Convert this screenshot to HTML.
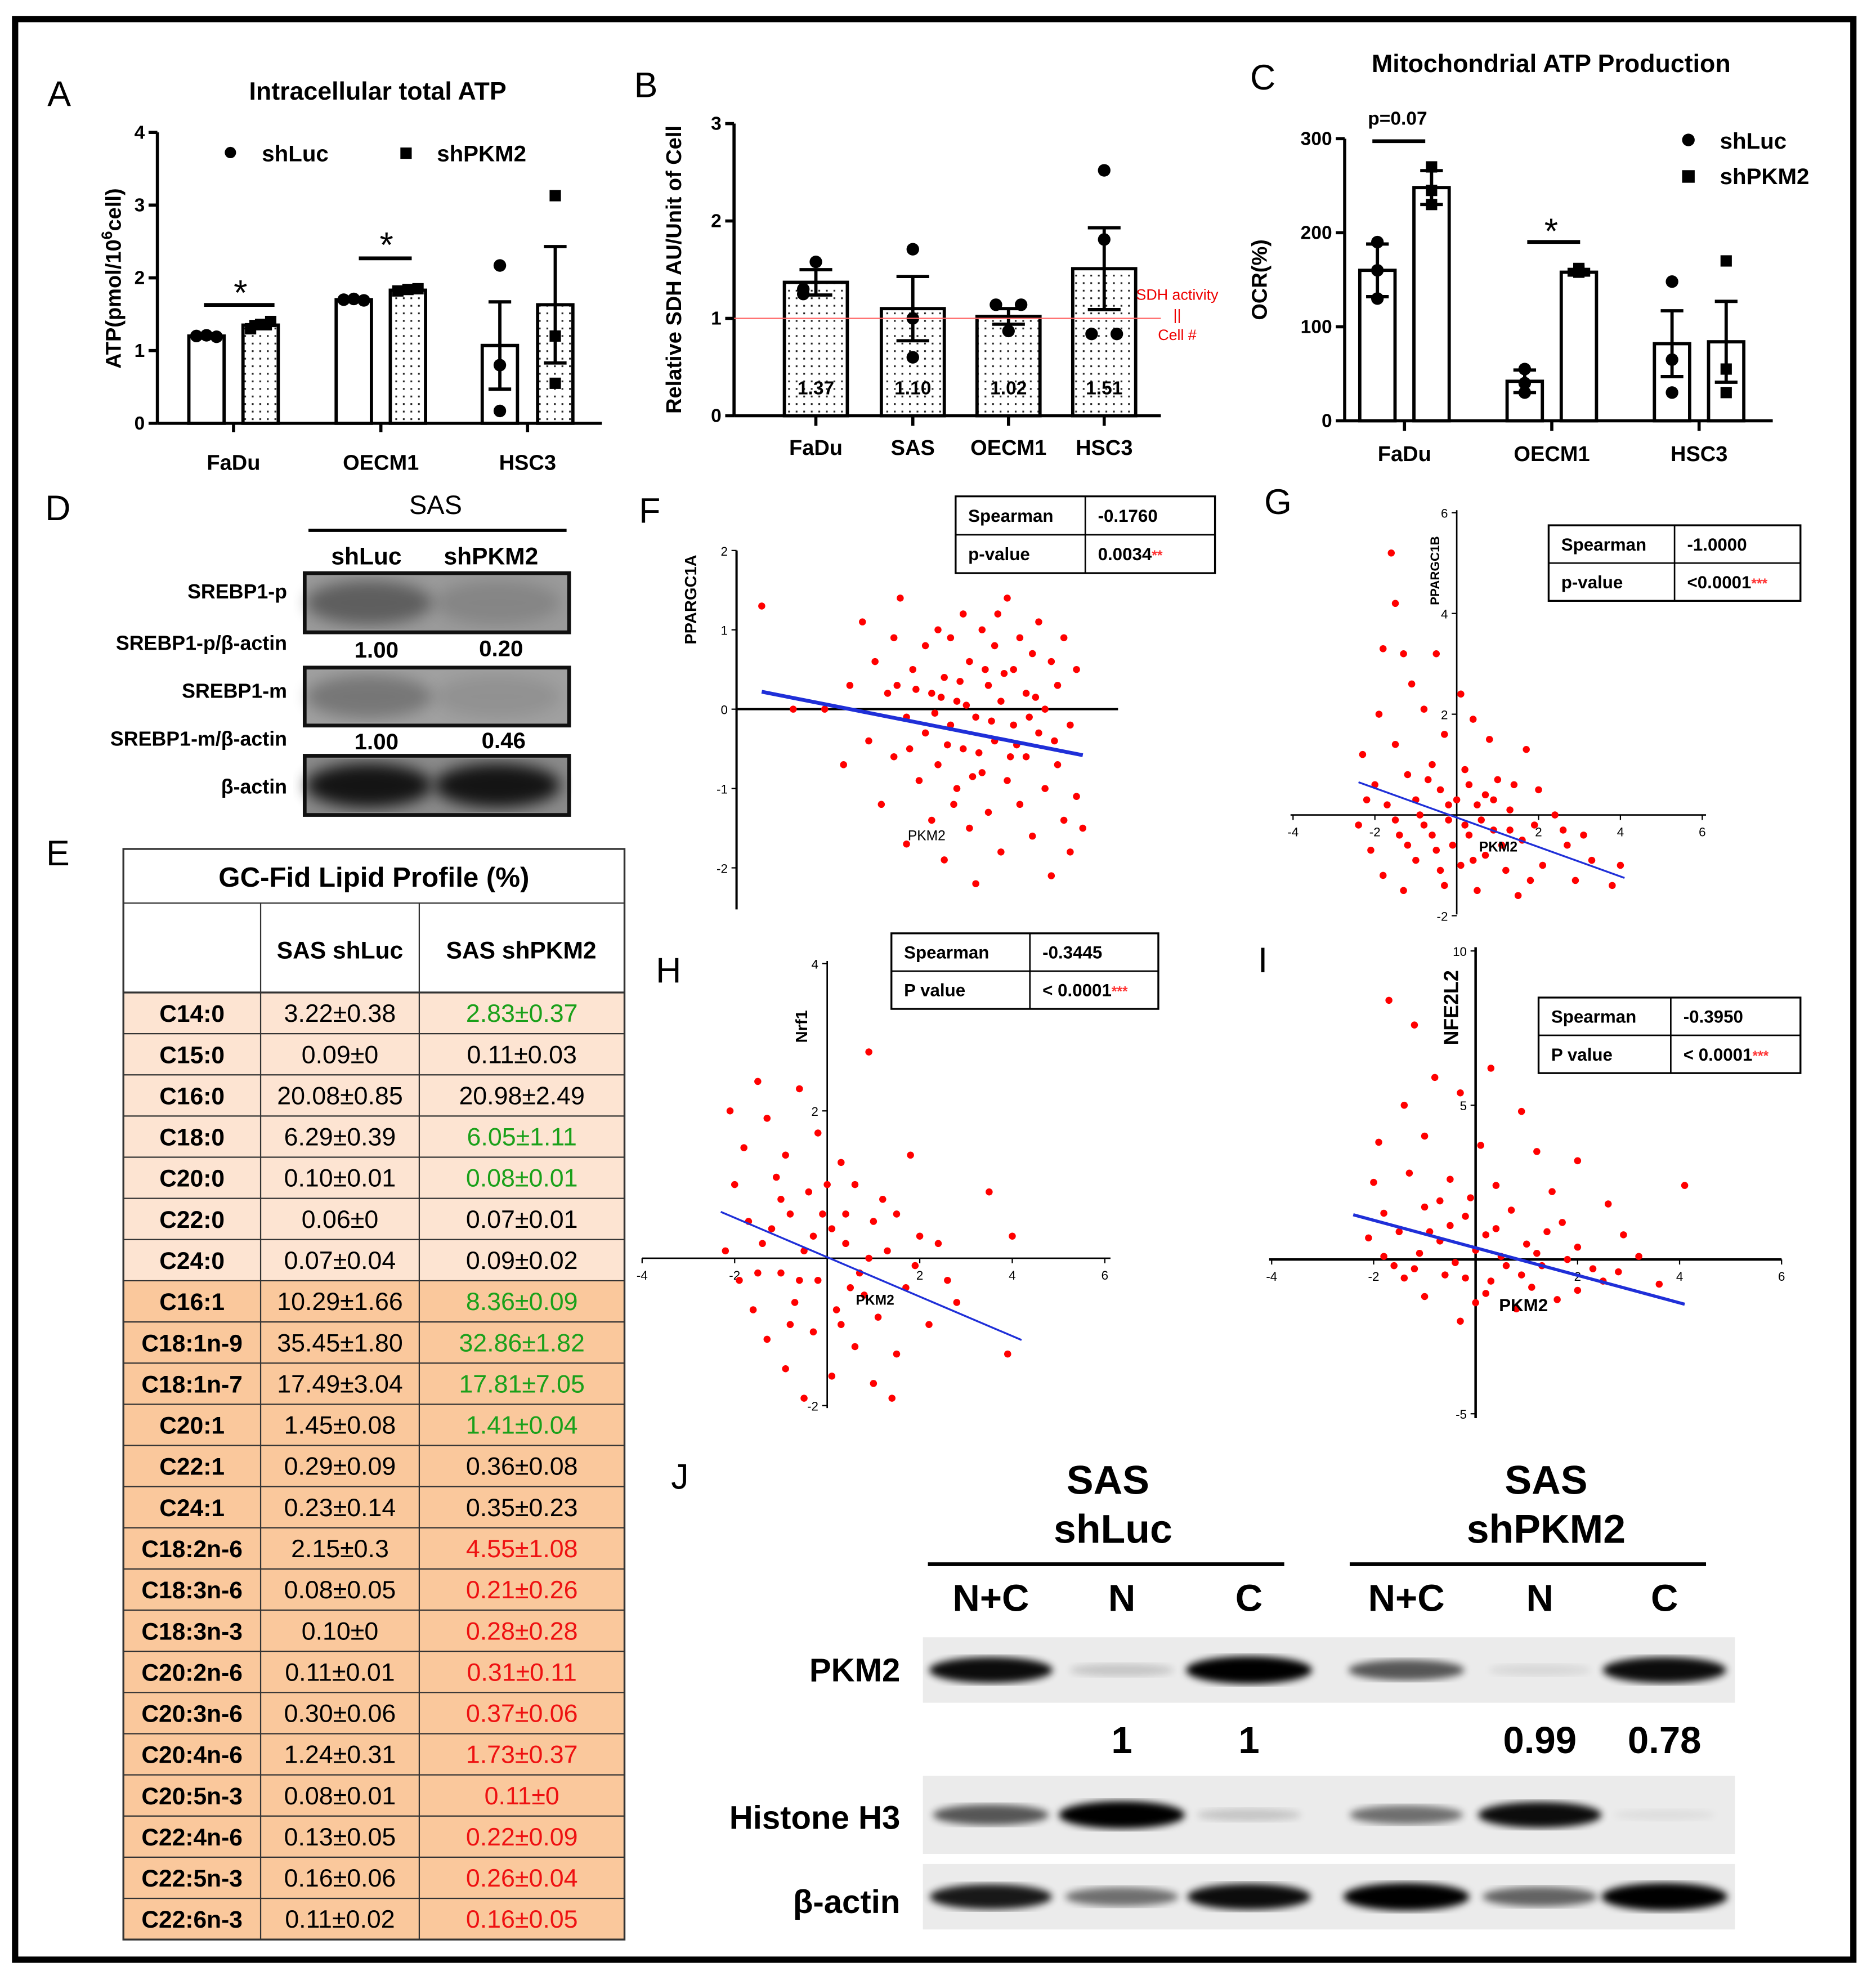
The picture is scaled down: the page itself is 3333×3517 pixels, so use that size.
<!DOCTYPE html>
<html><head><meta charset="utf-8"><style>
html,body{margin:0;padding:0;background:#fff}
svg{display:block}
text{font-family:"Liberation Sans",Arial,sans-serif}
</style></head><body>
<svg id="fig" width="3333" height="3517" viewBox="0 0 1490 1572" xmlns="http://www.w3.org/2000/svg">
<defs>
<pattern id="dots" width="6" height="6" patternUnits="userSpaceOnUse"><rect width="6" height="6" fill="#fff"/><rect x="2" y="2" width="1.4" height="1.4" fill="#222"/></pattern>
<filter id="blur2"><feGaussianBlur stdDeviation="3"/></filter>
<filter id="blur5"><feGaussianBlur stdDeviation="6"/></filter>
</defs>
<rect x="12" y="15" width="1460" height="1541" fill="none" stroke="#000" stroke-width="5"/>
</svg>
<script>
// ---------- DATA ----------
const catsA = ["FaDu","OECM1","HSC3"];
const meanA_luc = [1.2,1.7,1.07];
const meanA_pkm = [1.35,1.83,1.63];
const semA_luc = [0.03,0.03,0.6];
const semA_pkm = [0.05,0.03,0.8];
const ptsA_luc = [[1.2,1.21,1.19],[1.7,1.71,1.69],[0.17,0.8,2.17]];
const ptsA_pkm = [[1.3,1.36,1.4],[1.82,1.84,1.85],[3.13,1.2,0.55]];
const ticksA = [0,1,2,3,4];

const catsB = ["FaDu","SAS","OECM1","HSC3"];
const meanB = [1.37,1.10,1.02,1.51];
const semB = [0.13,0.33,0.08,0.42];
const ptsB = [[1.58,1.25,1.3],[1.71,1.0,0.6],[1.14,1.14,0.87],[2.52,1.81,0.84,0.84]];
const labelsB = ["1.37","1.10","1.02","1.51"];
const ticksB = [0,1,2,3];

const catsC = ["FaDu","OECM1","HSC3"];
const meanC_luc = [160,42,82];
const meanC_pkm = [248,158,84];
const semC_luc = [28,12,35];
const semC_pkm = [18,3,43];
const ptsC_luc = [[190,130,160],[55,30,40],[148,30,65]];
const ptsC_pkm = [[270,230,245],[158,160,162],[170,30,55]];
const ticksC = [0,100,200,300];

const lipidNames = ["C14:0","C15:0","C16:0","C18:0","C20:0","C22:0","C24:0","C16:1","C18:1n-9","C18:1n-7","C20:1","C22:1","C24:1","C18:2n-6","C18:3n-6","C18:3n-3","C20:2n-6","C20:3n-6","C20:4n-6","C20:5n-3","C22:4n-6","C22:5n-3","C22:6n-3"];
const lipidLuc = ["3.22±0.38","0.09±0","20.08±0.85","6.29±0.39","0.10±0.01","0.06±0","0.07±0.04","10.29±1.66","35.45±1.80","17.49±3.04","1.45±0.08","0.29±0.09","0.23±0.14","2.15±0.3","0.08±0.05","0.10±0","0.11±0.01","0.30±0.06","1.24±0.31","0.08±0.01","0.13±0.05","0.16±0.06","0.11±0.02"];
const lipidPkm = ["2.83±0.37","0.11±0.03","20.98±2.49","6.05±1.11","0.08±0.01","0.07±0.01","0.09±0.02","8.36±0.09","32.86±1.82","17.81±7.05","1.41±0.04","0.36±0.08","0.35±0.23","4.55±1.08","0.21±0.26","0.28±0.28","0.31±0.11","0.37±0.06","1.73±0.37","0.11±0","0.22±0.09","0.26±0.04","0.16±0.05"];
const lipidTrend = ["g","k","k","g","g","k","k","g","g","g","g","k","k","r","r","r","r","r","r","r","r","r","r"];

const ptsF = [[-2.6,1.3],[-2.1,0.0],[-1.6,0.0],[-1.3,-0.7],[-1.2,0.3],[-1.0,1.1],[-0.9,-0.4],[-0.8,0.6],[-0.7,-1.2],[-0.6,0.2],[-0.5,0.9],[-0.5,-0.6],[-0.4,1.4],[-0.3,-0.1],[-0.3,-1.7],[-0.2,0.5],[-0.1,-0.9],[0.0,0.8],[0.0,-0.3],[0.1,-1.4],[0.1,0.2],[0.2,1.0],[0.2,-0.7],[0.3,0.4],[0.3,-1.9],[0.4,-0.2],[0.4,0.9],[0.5,-1.0],[0.5,0.1],[0.6,1.2],[0.6,-0.5],[0.7,-1.5],[0.7,0.6],[0.8,-0.1],[0.8,-2.2],[0.9,1.0],[0.9,-0.8],[1.0,0.3],[1.0,-1.3],[1.1,0.8],[1.1,-0.4],[1.2,-1.8],[1.2,0.1],[1.3,1.4],[1.3,-0.9],[1.4,0.5],[1.4,-0.2],[1.5,-1.2],[1.5,0.9],[1.6,-0.6],[1.6,0.2],[1.7,-1.6],[1.7,0.7],[1.8,-0.3],[1.8,1.1],[1.9,-1.0],[1.9,0.0],[2.0,0.6],[2.0,-2.1],[2.1,-0.7],[2.1,0.3],[2.2,-1.4],[2.2,0.9],[2.3,-0.2],[2.3,-1.8],[2.4,0.5],[2.4,-1.1],[2.5,-1.5],[0.15,-0.05],[0.55,0.35],[0.85,-0.55],[1.25,0.45],[0.35,-0.45],[1.05,-0.15],[0.65,0.05],[1.45,-0.45],[-0.15,0.25],[1.75,0.15],[0.45,-1.2],[1.15,1.2],[-0.25,-0.5],[0.25,0.15],[0.95,0.5],[1.35,-0.6],[1.65,-0.1],[0.75,-0.85],[-0.45,0.3],[2.05,-0.4]];
const lineFx = [-2.6,2.5], lineFy = [0.22,-0.58];
const ptsG = [[-1.6,5.2],[-1.5,4.2],[-1.8,3.3],[-1.3,3.2],[-0.5,3.2],[-1.1,2.6],[0.1,2.4],[-1.9,2.0],[-0.8,2.1],[0.4,1.9],[-2.3,1.2],[-1.5,1.4],[-0.3,1.6],[0.8,1.5],[1.7,1.3],[-2.0,0.6],[-1.2,0.8],[-0.6,1.0],[0.2,0.9],[1.0,0.7],[2.0,0.5],[-2.4,-0.2],[-1.7,0.2],[-1.0,0.3],[-0.4,0.5],[0.5,0.2],[1.3,0.1],[2.4,0.0],[-2.1,-0.7],[-1.4,-0.4],[-0.8,-0.2],[-0.2,-0.1],[0.3,-0.4],[0.9,-0.3],[1.6,-0.5],[2.7,-0.6],[3.3,-0.9],[-1.8,-1.2],[-1.0,-0.9],[-0.5,-0.7],[0.1,-1.0],[0.7,-0.8],[1.2,-1.1],[2.1,-1.0],[2.9,-1.3],[3.8,-1.4],[-1.3,-1.5],[-0.3,-1.4],[0.5,-1.5],[1.5,-1.6],[-0.9,0.0],[0.0,0.3],[0.6,-0.1],[-0.6,-0.4],[1.1,-0.6],[-1.5,-0.1],[0.3,0.6],[1.9,-0.2],[-0.1,-0.6],[0.9,0.3],[2.6,-0.3],[-2.2,0.3],[3.1,-0.4],[4.0,-1.0],[1.4,0.6],[-0.7,0.7],[0.4,-0.9],[1.8,-1.3],[-0.2,0.2],[0.2,-0.2],[-1.2,-0.6],[0.7,0.4],[-0.4,-1.1],[1.3,-0.3]];
const lineGx = [-2.4,4.1], lineGy = [0.65,-1.25];
const ptsH = [[-1.5,2.4],[-0.6,2.3],[-2.1,2.0],[-1.3,1.9],[-0.2,1.7],[0.9,2.8],[-1.8,1.5],[-0.9,1.4],[0.3,1.3],[1.8,1.4],[-2.0,1.0],[-1.1,1.1],[-0.4,0.9],[0.6,1.0],[1.5,0.6],[3.5,0.9],[-1.7,0.5],[-0.8,0.6],[0.1,0.4],[1.0,0.5],[2.0,0.3],[4.0,0.3],[-2.2,0.1],[-1.4,0.2],[-0.5,0.1],[0.4,0.2],[1.3,0.1],[2.4,0.2],[-1.9,-0.3],[-1.0,-0.2],[-0.2,-0.3],[0.7,-0.2],[1.7,-0.4],[2.8,-0.6],[-1.6,-0.7],[-0.7,-0.6],[0.2,-0.7],[1.1,-0.8],[2.2,-0.9],[3.9,-1.3],[-1.3,-1.1],[-0.3,-1.0],[0.6,-1.2],[1.5,-1.3],[-0.9,-1.5],[0.1,-1.6],[1.0,-1.7],[1.4,-1.9],[-0.5,-1.9],[0.5,-0.4],[-1.2,0.4],[0.9,0.0],[-0.1,0.6],[1.9,-0.1],[-0.6,-0.3],[0.3,-0.9],[-1.5,-0.2],[2.6,-0.3],[0.0,1.0],[1.2,0.8],[-0.3,0.3],[-1.0,0.8],[0.8,-0.5],[-0.8,-0.9],[0.4,0.6]];
const lineHx = [-2.3,4.2], lineHy = [0.63,-1.11];
const ptsI = [[-1.7,8.4],[-1.2,7.6],[0.3,6.2],[-0.8,5.9],[-1.4,5.0],[-0.3,5.4],[0.9,4.8],[-1.9,3.8],[-1.0,4.0],[0.1,3.7],[1.2,3.5],[2.0,3.2],[-2.0,2.5],[-1.3,2.8],[-0.5,2.6],[0.4,2.4],[1.5,2.2],[2.6,1.8],[4.1,2.4],[-1.8,1.5],[-1.0,1.7],[-0.2,1.4],[0.7,1.6],[1.7,1.2],[2.9,0.8],[-2.1,0.7],[-1.5,0.9],[-0.7,0.6],[0.2,0.8],[1.0,0.5],[2.0,0.4],[3.2,0.1],[-1.8,0.1],[-1.1,0.2],[-0.4,-0.1],[0.5,0.1],[1.3,-0.2],[2.3,-0.3],[3.6,-0.8],[-1.4,-0.6],[-0.6,-0.5],[0.3,-0.7],[1.1,-0.9],[2.0,-1.0],[-1.0,-1.2],[0.0,-1.4],[0.8,-1.6],[1.6,-1.3],[-0.3,-2.0],[0.6,-0.2],[-0.9,0.9],[1.8,0.0],[0.0,0.3],[-1.6,-0.2],[2.5,-0.7],[1.4,0.9],[-0.1,2.0],[0.9,-0.5],[-0.5,1.1],[2.8,-0.4],[-0.2,-0.6],[0.4,1.0],[1.2,0.2],[-1.2,-0.3],[0.2,-1.1],[-0.7,1.9]];
const lineIx = [-2.4,4.1], lineIy = [1.45,-1.45];

const pkm2Band = [0.9,0.15,1.0,0.6,0.08,0.9];
const histBand = [0.6,1.0,0.15,0.5,0.9,0.05];
const actinBand = [0.85,0.5,0.9,1.0,0.55,1.0];
const pkm2Vals = ["","1","1","","0.99","0.78"];

// ---------- HELPERS ----------
const NS = "http://www.w3.org/2000/svg";
const svg = document.getElementById('fig');
function mk(tag, attrs, parent){ const e=document.createElementNS(NS,tag); for(const k in attrs) e.setAttribute(k,attrs[k]); (parent||svg).appendChild(e); return e; }
function tx(str, attrs, parent){ const e=mk('text',attrs,parent); e.textContent=str; return e; }
function grp(name){ const g=mk('g',{});   return g; }
function nm(e,name){   return e; }

const letters=[["A",47,84],["B",513,77],["C",1003,71],["D",46,413],["E",46,687],["F",516,415],["G",1015,408],["H",531,780],["I",1003,772],["J",540,1182]];
letters.forEach(l=>{ const t=tx(l[0],{x:l[1],y:l[2],'font-size':28,'text-anchor':'middle'});
 
  });

function yAxis(g, x, yfn, ticks, fmt, name){
  const top=yfn(ticks[ticks.length-1]), bot=yfn(ticks[0]);
  const ax=mk('line',{x1:x,y1:top,x2:x,y2:bot,stroke:'#000','stroke-width':2.5},g);
   
  ticks.forEach(t=>{ const y=yfn(t);
    mk('line',{x1:x-7,y1:y,x2:x,y2:y,stroke:'#000','stroke-width':2.5},g);
    const lb=tx(fmt(t),{x:x-10,y:y+5,'font-size':15,'font-weight':'bold','text-anchor':'end'},g);
     
  });
}
function bar(g,cx,w,v,yfn,fill,name){
  const r=mk('rect',{x:cx-w/2,y:yfn(v),width:w,height:yfn(0)-yfn(v),fill:fill,stroke:'#000','stroke-width':2.6},g);
    return r;
}
function err(g,cx,v,s,yfn,cap){
  const e=mk('path',{d:`M${cx},${yfn(v-s)}V${yfn(v+s)}M${cx-cap},${yfn(v+s)}h${2*cap}M${cx-cap},${yfn(v-s)}h${2*cap}`,stroke:'#000','stroke-width':2.6,fill:'none'},g);
   
}
function dot(g,cx,y,sq){
  let e; if(sq) e=mk('rect',{x:cx-4.5,y:y-4.5,width:9,height:9,fill:'#000'},g); else e=mk('circle',{cx:cx,cy:y,r:5,fill:'#000'},g);
   
}
function spread(i,n){ return n<=1?0:(i-(n-1)/2)*(n>3?14:8); }

// ---------- PANEL A ----------
(function(){
 const g=grp('panel-a-atp-chart');
 const yA=v=>336-v*(231/4);
 yAxis(g,125,yA,ticksA,t=>String(t),'panel-a');
 mk('line',{x1:125,y1:336,x2:478,y2:336,stroke:'#000','stroke-width':2.5},g);
 const cL=[164,281,397], cP=[207,324,441];
 catsA.forEach((c,i)=>{
  bar(g,cL[i],28,meanA_luc[i],yA,'#fff','bar-shluc-'+c.toLowerCase());
  bar(g,cP[i],28,meanA_pkm[i],yA,'url(#dots)','bar-shpkm2-'+c.toLowerCase());
  err(g,cL[i],meanA_luc[i],semA_luc[i],yA,9); err(g,cP[i],meanA_pkm[i],semA_pkm[i],yA,9);
  ptsA_luc[i].forEach((p,j)=>dot(g,cL[i]+(i<2?spread(j,3):0),yA(p),false));
  ptsA_pkm[i].forEach((p,j)=>dot(g,cP[i]+(i<2?spread(j,3):0),yA(p),true));
  mk('line',{x1:(cL[i]+cP[i])/2,y1:336,x2:(cL[i]+cP[i])/2,y2:343,stroke:'#000','stroke-width':2.5},g);
  const t=tx(c,{x:(cL[i]+cP[i])/2,y:373,'font-size':17,'font-weight':'bold','text-anchor':'middle'},g);
   
 });
 nm(tx('Intracellular total ATP',{x:300,y:79,'font-size':20,'font-weight':'bold','text-anchor':'middle'},g),'panel-a-title');
 mk('circle',{cx:183,cy:121,r:4.5},g); nm(tx('shLuc',{x:208,y:128,'font-size':18,'font-weight':'bold'},g),'legend-shluc');
 mk('rect',{x:318,y:117,width:9,height:9},g); nm(tx('shPKM2',{x:347,y:128,'font-size':18,'font-weight':'bold'},g),'legend-shpkm2');
 mk('line',{x1:162,y1:242,x2:218,y2:242,stroke:'#000','stroke-width':3},g);
 nm(tx('*',{x:191,y:242,'font-size':28,'text-anchor':'middle'},g),'significance-star');
 mk('line',{x1:285,y1:205,x2:327,y2:205,stroke:'#000','stroke-width':3},g);
 nm(tx('*',{x:307,y:204,'font-size':28,'text-anchor':'middle'},g),'significance-star');
 const yl=tx('',{x:0,y:0,'font-size':17,'font-weight':'bold','text-anchor':'middle',transform:'translate(96,221) rotate(-90)'},g);
 yl.innerHTML='ATP(pmol/10<tspan dy="-7" font-size="12">6</tspan><tspan dy="7">cell)</tspan>';
 nm(yl,'panel-a-y-axis-title');
})();

// ---------- PANEL B ----------
(function(){
 const g=grp('panel-b-sdh-chart');
 const yB=v=>330-v*77.33;
 yAxis(g,583,yB,ticksB,t=>String(t),'panel-b');
 mk('line',{x1:583,y1:330,x2:922,y2:330,stroke:'#000','stroke-width':2.5},g);
 const cx=[648,725,801,877];
 catsB.forEach((c,i)=>{
  bar(g,cx[i],50,meanB[i],yB,'url(#dots)','bar-'+c.toLowerCase());
  err(g,cx[i],meanB[i],semB[i],yB,13);
  ptsB[i].forEach((p,j)=>{ const dup=ptsB[i].filter(q=>Math.abs(q-p)<0.08).length>1; dot(g,cx[i]+(dup?(ptsB[i].indexOf(p)===j?-10:10):0),yB(p),false); });
  nm(tx(labelsB[i],{x:cx[i],y:313,'font-size':15,'font-weight':'bold','text-anchor':'middle'},g),'bar-value-label');
  mk('line',{x1:cx[i],y1:330,x2:cx[i],y2:338,stroke:'#000','stroke-width':2.5},g);
  nm(tx(c,{x:cx[i],y:361,'font-size':17,'font-weight':'bold','text-anchor':'middle'},g),'x-category-label');
 });
 nm(mk('line',{x1:583,y1:yB(1),x2:922,y2:yB(1),stroke:'#f66','stroke-width':1},g),'reference-line');
 nm(tx('SDH activity',{x:935,y:238,'font-size':12,fill:'#e00','text-anchor':'middle'},g),'reference-note');
 nm(tx('||',{x:935,y:254,'font-size':12,fill:'#e00','text-anchor':'middle'},g),'reference-note');
 nm(tx('Cell #',{x:935,y:270,'font-size':12,fill:'#e00','text-anchor':'middle'},g),'reference-note');
 nm(tx('Relative SDH AU/Unit of Cell',{x:0,y:0,'font-size':17,'font-weight':'bold','text-anchor':'middle',transform:'translate(541,214) rotate(-90)'},g),'panel-b-y-axis-title');
})();

// ---------- PANEL C ----------
(function(){
 const g=grp('panel-c-ocr-chart');
 const yC=v=>334-v*(224/300);
 yAxis(g,1068,yC,ticksC,t=>String(t),'panel-c');
 mk('line',{x1:1068,y1:334,x2:1408,y2:334,stroke:'#000','stroke-width':2.5},g);
 const cL=[1094,1211,1328], cP=[1137,1254,1371];
 catsC.forEach((c,i)=>{
  bar(g,cL[i],28,meanC_luc[i],yC,'#fff','bar-shluc-'+c.toLowerCase());
  bar(g,cP[i],28,meanC_pkm[i],yC,'#fff','bar-shpkm2-'+c.toLowerCase());
  err(g,cL[i],meanC_luc[i],semC_luc[i],yC,9); err(g,cP[i],meanC_pkm[i],semC_pkm[i],yC,9);
  ptsC_luc[i].forEach(p=>dot(g,cL[i],yC(p),false));
  ptsC_pkm[i].forEach(p=>dot(g,cP[i],yC(p),true));
  mk('line',{x1:(cL[i]+cP[i])/2,y1:334,x2:(cL[i]+cP[i])/2,y2:342,stroke:'#000','stroke-width':2.5},g);
  nm(tx(c,{x:(cL[i]+cP[i])/2,y:366,'font-size':17,'font-weight':'bold','text-anchor':'middle'},g),'x-category-label');
 });
 nm(tx('Mitochondrial ATP Production',{x:1232,y:57,'font-size':20,'font-weight':'bold','text-anchor':'middle'},g),'panel-c-title');
 mk('circle',{cx:1341,cy:111,r:5},g); nm(tx('shLuc',{x:1366,y:118,'font-size':18,'font-weight':'bold'},g),'legend-shluc');
 mk('rect',{x:1336,y:135,width:10,height:10},g); nm(tx('shPKM2',{x:1366,y:146,'font-size':18,'font-weight':'bold'},g),'legend-shpkm2');
 mk('line',{x1:1090,y1:112,x2:1132,y2:112,stroke:'#000','stroke-width':3},g);
 nm(tx('p=0.07',{x:1110,y:99,'font-size':15,'font-weight':'bold','text-anchor':'middle'},g),'p-value-annotation');
 mk('line',{x1:1213,y1:192,x2:1255,y2:192,stroke:'#000','stroke-width':3},g);
 nm(tx('*',{x:1232,y:193,'font-size':28,'text-anchor':'middle'},g),'significance-star');
 nm(tx('OCR(%)',{x:0,y:0,'font-size':17,'font-weight':'bold','text-anchor':'middle',transform:'translate(1006,222) rotate(-90)'},g),'panel-c-y-axis-title');
})();

// ---------- PANEL D ----------
(function(){
 const g=grp('panel-d-western-blot');
 nm(tx('SAS',{x:346,y:408,'font-size':21,'text-anchor':'middle'},g),'group-label');
 mk('line',{x1:245,y1:421,x2:450,y2:421,stroke:'#000','stroke-width':2.5},g);
 nm(tx('shLuc',{x:291,y:448,'font-size':19,'font-weight':'bold','text-anchor':'middle'},g),'lane-label');
 nm(tx('shPKM2',{x:390,y:448,'font-size':19,'font-weight':'bold','text-anchor':'middle'},g),'lane-label');
 const rows=[[455,47,'#9a9a9a',[0.45,0.15]],[530,46,'#a0a0a0',[0.3,0.1]],[600,47,'#8a8a8a',[1,1]]];
 rows.forEach(r=>{
  nm(mk('rect',{x:242,y:r[0],width:210,height:r[1],fill:r[2],stroke:'#111','stroke-width':3},g),'blot-strip');
  [293,395].forEach((cx,j)=>{ const a=r[3][j];
   mk('ellipse',{cx:cx,cy:r[0]+r[1]/2,rx:50,ry:r[1]/2-6,fill:'#000',opacity:a*0.85,filter:'url(#blur5)'},g); });
 });
 const lbl=[['SREBP1-p',475],['SREBP1-p/β-actin',516],['SREBP1-m',554],['SREBP1-m/β-actin',592],['β-actin',630]];
 lbl.forEach(l=>nm(tx(l[0],{x:228,y:l[1],'font-size':16,'font-weight':'bold','text-anchor':'end'},g),'blot-row-label'));
 [['1.00',299,522],['0.20',398,521],['1.00',299,595],['0.46',400,594]].forEach(v=>nm(tx(v[0],{x:v[1],y:v[2],'font-size':18,'font-weight':'bold','text-anchor':'middle'},g),'quantification-value'));
})();

// ---------- PANEL E ----------
(function(){
 const g=grp('panel-e-lipid-table');
 const x0=98,x1=207,x2=333,x3=496, top=674, hTop=717, dTop=788, rh=(1540-788)/lipidNames.length;
 mk('rect',{x:x0,y:top,width:x3-x0,height:dTop-top,fill:'#fff'},g);
 lipidNames.forEach((n,i)=>{
  const y=dTop+i*rh;
  nm(mk('rect',{x:x0,y:y,width:x3-x0,height:rh,fill:i<7?'#fde4d2':'#fac89c'},g),'table-row-bg');
  nm(tx(n,{x:(x0+x1)/2,y:y+rh/2+7,'font-size':19,'font-weight':'bold','text-anchor':'middle'},g),'lipid-name');
  nm(tx(lipidLuc[i],{x:(x1+x2)/2,y:y+rh/2+7,'font-size':20,'text-anchor':'middle','font-family':'Liberation Serif, serif'},g),'shluc-value');
  const col=lipidTrend[i]==='g'?'#1aa01a':lipidTrend[i]==='r'?'#ee1111':'#000';
  nm(tx(lipidPkm[i],{x:(x2+x3)/2,y:y+rh/2+7,'font-size':20,'text-anchor':'middle',fill:col,'font-family':'Liberation Serif, serif'},g),'shpkm2-value');
  mk('line',{x1:x0,y1:y,x2:x3,y2:y,stroke:'#333','stroke-width':1},g);
 });
 mk('rect',{x:x0,y:top,width:x3-x0,height:1540-top,fill:'none',stroke:'#333','stroke-width':1.5},g);
 mk('line',{x1:x0,y1:hTop,x2:x3,y2:hTop,stroke:'#333','stroke-width':1},g);
 mk('line',{x1:x0,y1:dTop,x2:x3,y2:dTop,stroke:'#333','stroke-width':1.5},g);
 [x1,x2].forEach(x=>mk('line',{x1:x,y1:hTop,x2:x,y2:1540,stroke:'#333','stroke-width':1},g));
 nm(tx('GC-Fid Lipid Profile (%)',{x:297,y:704,'font-size':22,'font-weight':'bold','text-anchor':'middle'},g),'table-title');
 nm(tx('SAS shLuc',{x:270,y:761,'font-size':19,'font-weight':'bold','text-anchor':'middle'},g),'column-header');
 nm(tx('SAS shPKM2',{x:414,y:761,'font-size':19,'font-weight':'bold','text-anchor':'middle'},g),'column-header');
})();

// ---------- SCATTER PANELS ----------
function scatter(cfg){
 const g=grp(cfg.name);
 const sx=v=>cfg.ox+v*cfg.kx, sy=v=>cfg.oy-v*cfg.ky;
 const yx = cfg.yx!==undefined?cfg.yx:cfg.ox;
 mk('line',{x1:cfg.xa[0],y1:cfg.oy,x2:cfg.xa[1],y2:cfg.oy,stroke:'#000','stroke-width':cfg.sw},g);
 mk('line',{x1:yx,y1:cfg.ya[0],x2:yx,y2:cfg.ya[1],stroke:'#000','stroke-width':cfg.sw},g);
 (cfg.xt||[]).forEach(t=>{ mk('line',{x1:sx(t),y1:cfg.oy,x2:sx(t),y2:cfg.oy+4,stroke:'#000'},g);
   nm(tx(String(t),{x:sx(t),y:cfg.oy+17,'font-size':10,'text-anchor':'middle'},g),'x-tick-label'); });
 (cfg.yt||[]).forEach(t=>{ mk('line',{x1:yx-4,y1:sy(t),x2:yx,y2:sy(t),stroke:'#000'},g);
   nm(tx(String(t),{x:yx-7,y:sy(t)+4,'font-size':10,'text-anchor':'end'},g),'y-tick-label'); });
 cfg.pts.forEach(p=>{ const c=mk('circle',{cx:sx(p[0]),cy:sy(p[1]),r:2.8,fill:'#f00'},g);
   
    });
 const ln=mk('line',{x1:sx(cfg.lx[0]),y1:sy(cfg.ly[0]),x2:sx(cfg.lx[1]),y2:sy(cfg.ly[1]),stroke:'#1f2fd8','stroke-width':cfg.lw},g);
 nm(ln,'regression-line');
 nm(tx(cfg.ylab,{x:0,y:0,'font-size':cfg.ylfs,'font-weight':'bold','text-anchor':'middle',transform:`translate(${cfg.ylp[0]},${cfg.ylp[1]}) rotate(-90)`},g),'y-axis-title');
 nm(tx('PKM2',{x:cfg.xlp[0],y:cfg.xlp[1],'font-size':cfg.xlfs,'font-weight':cfg.xlb?'bold':'normal','text-anchor':'middle'},g),'x-axis-title');
 const T=cfg.tb, w1=T.w1;
 mk('rect',{x:T.x,y:T.y,width:T.w,height:T.h,fill:'#fff',stroke:'#000','stroke-width':1.5},g);
 mk('line',{x1:T.x,y1:T.y+T.h/2,x2:T.x+T.w,y2:T.y+T.h/2,stroke:'#000','stroke-width':1.2},g);
 mk('line',{x1:T.x+w1,y1:T.y,x2:T.x+w1,y2:T.y+T.h,stroke:'#000','stroke-width':1.2},g);
 nm(tx('Spearman',{x:T.x+10,y:T.y+T.h/4+5,'font-size':14,'font-weight':'bold'},g),'stats-label');
 nm(tx(T.r,{x:T.x+w1+10,y:T.y+T.h/4+5,'font-size':14,'font-weight':'bold'},g),'spearman-value');
 nm(tx(T.pl,{x:T.x+10,y:T.y+3*T.h/4+5,'font-size':14,'font-weight':'bold'},g),'stats-label');
 const pv=tx('',{x:T.x+w1+10,y:T.y+3*T.h/4+5,'font-size':14,'font-weight':'bold'},g);
 pv.innerHTML=T.p+'<tspan fill="#f33" font-size="11">'+T.st+'</tspan>'; nm(pv,'p-value');
}
scatter({name:'panel-f-scatter',ox:735,yx:585,oy:563,kx:50,ky:63,xa:[585,888],ya:[437,722],sw:1.8,xt:[],yt:[2,1,0,-1,-2],
 pts:ptsF,lx:lineFx,ly:lineFy,lw:3,ylab:'PPARGC1A',ylfs:13,ylp:[553,476],xlp:[736,667],xlfs:11,xlb:false,
 tb:{x:759,y:394,w:206,h:61,w1:103,r:'-0.1760',pl:'p-value',p:'0.0034',st:'**'}});
scatter({name:'panel-g-scatter',ox:1157,oy:647,kx:32.5,ky:40,xa:[1025,1355],ya:[405,726],sw:1.2,xt:[-4,-2,2,4,6],yt:[6,4,2,-2],
 pts:ptsG,lx:lineGx,ly:lineGy,lw:1.5,ylab:'PPARGC1B',ylfs:10,ylp:[1143,453],xlp:[1190,676],xlfs:11,xlb:true,
 tb:{x:1230,y:417,w:200,h:60,w1:100,r:'-1.0000',pl:'p-value',p:'<0.0001',st:'***'}});
scatter({name:'panel-h-scatter',ox:657,oy:999,kx:36.75,ky:58.5,xa:[510,882],ya:[763,1118],sw:1.2,xt:[-4,-2,2,4,6],yt:[4,2,-2],
 pts:ptsH,lx:lineHx,ly:lineHy,lw:1.5,ylab:'Nrf1',ylfs:13,ylp:[641,815],xlp:[695,1036],xlfs:11,xlb:true,
 tb:{x:708,y:741,w:212,h:60,w1:110,r:'-0.3445',pl:'P value',p:'< 0.0001',st:'***'}});
scatter({name:'panel-i-scatter',ox:1172,oy:1000,kx:40.5,ky:24.5,xa:[1008,1415],ya:[752,1126],sw:2,xt:[-4,-2,2,4,6],yt:[10,5,-5],
 pts:ptsI,lx:lineIx,ly:lineIy,lw:2.5,ylab:'NFE2L2',ylfs:16,ylp:[1158,800],xlp:[1210,1041],xlfs:14,xlb:true,
 tb:{x:1222,y:792,w:208,h:60,w1:105,r:'-0.3950',pl:'P value',p:'< 0.0001',st:'***'}});

// ---------- PANEL J ----------
(function(){
 const g=grp('panel-j-fractionation-blot');
 [['SAS',880,1186],['shLuc',884,1225],['SAS',1228,1186],['shPKM2',1228,1225]].forEach(t=>nm(tx(t[0],{x:t[1],y:t[2],'font-size':32,'font-weight':'bold','text-anchor':'middle'},g),'group-label'));
 mk('line',{x1:737,y1:1242,x2:1020,y2:1242,stroke:'#000','stroke-width':3},g);
 mk('line',{x1:1072,y1:1242,x2:1355,y2:1242,stroke:'#000','stroke-width':3},g);
 const lanes=[787,891,992,1117,1223,1322], lnames=['N+C','N','C','N+C','N','C'];
 lanes.forEach((x,i)=>nm(tx(lnames[i],{x:x,y:1279,'font-size':30,'font-weight':'bold','text-anchor':'middle'},g),'lane-label'));
 const rows=[[1300,52,pkm2Band,'PKM2',1335],[1410,62,histBand,'Histone H3',1452],[1480,52,actinBand,'β-actin',1519]];
 rows.forEach(r=>{
  nm(mk('rect',{x:733,y:r[0],width:645,height:r[1],fill:'#ebebeb'},g),'blot-strip');
  lanes.forEach((x,i)=>{ const a=r[2][i];
   const e=mk('ellipse',{cx:x,cy:r[0]+r[1]/2,rx:40+a*10,ry:4+a*7,fill:'#000',opacity:Math.min(1,a*1.05),filter:'url(#blur2)'},g);
   
    });
  nm(tx(r[3],{x:715,y:r[4],'font-size':26,'font-weight':'bold','text-anchor':'end'},g),'blot-row-label');
 });
 lanes.forEach((x,i)=>{ if(pkm2Vals[i]) nm(tx(pkm2Vals[i],{x:x,y:1392,'font-size':30,'font-weight':'bold','text-anchor':'middle'},g),'quantification-value'); });
})();
</script>
</body></html>
